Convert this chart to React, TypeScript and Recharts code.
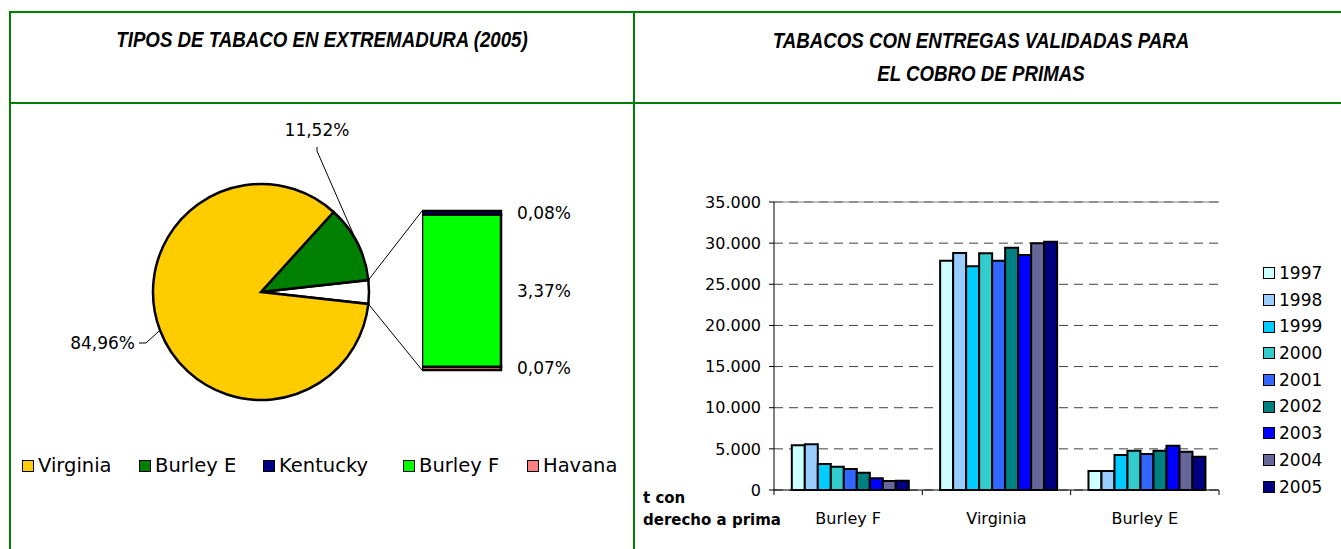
import React from 'react';
import {
  PieChart, Pie, Cell, BarChart, Bar, XAxis, YAxis, CartesianGrid, ReferenceLine, LabelList,
} from 'recharts';

// --- pie: tipos de tabaco (2005), % ---
const PIE_NAMES = ['Virginia', 'Burley E', 'Kentucky', 'Burley F', 'Havana'];
const PIE_VALUES = [84.96, 11.52, 0.08, 3.37, 0.07];
const PIE_COLORS = ['#FFCC00', '#008000', '#000080', '#00FF00', '#FF8080'];

// --- bars: t con derecho a prima ---
const CATEGORIES = ['Burley F', 'Virginia', 'Burley E'];
const YEARS = ['1997', '1998', '1999', '2000', '2001', '2002', '2003', '2004', '2005'];
const BURLEY_F = [5450, 5550, 3160, 2830, 2550, 2100, 1420, 1090, 1130];
const VIRGINIA = [27870, 28800, 27190, 28760, 27870, 29450, 28560, 29980, 30180];
const BURLEY_E = [2310, 2310, 4250, 4780, 4375, 4780, 5390, 4660, 4050];
const YEAR_COLORS = ['#CCFFFF', '#99CCFF', '#00CCFF', '#33CCCC', '#3366FF', '#008080', '#0000FF', '#666699', '#000080'];
const Y_TICKS = [0, 5000, 10000, 15000, 20000, 25000, 30000, 35000];

const FONT = '"DejaVu Sans", Verdana, sans-serif';
const TITLE_FONT = '"Liberation Sans", Arial, sans-serif';
const GREEN = '#008000';

// geometry of the left panel
const PIE_CX = 261;
const PIE_CY = 292;
const PIE_R = 108;
const STACK_LEFT = 422;
const STACK_TOP = 211;
const STACK_W = 79;
const STACK_H = 159;
const STACK_PAD = 14;
const PIE_LEGEND_X = [22, 139, 263, 403, 527];

const fmtPct = (v: number) => v.toFixed(2).replace('.', ',') + '%';
const fmtThousands = (v: number) => String(v).replace(/\B(?=(\d{3})+(?!\d))/g, '.');

// main pie: Virginia, Burley E and the rest grouped into the "other" slice
const otherValue = PIE_VALUES[2] + PIE_VALUES[3] + PIE_VALUES[4];
const pieData = [
  { name: 'Otros', value: otherValue, color: '#FFFFFF' },
  { name: PIE_NAMES[1], value: PIE_VALUES[1], color: PIE_COLORS[1] },
  { name: PIE_NAMES[0], value: PIE_VALUES[0], color: PIE_COLORS[0] },
];
const halfOther = (otherValue / 100) * 360 / 2;

const stackData = [{ name: 'otros', Havana: PIE_VALUES[4], 'Burley F': PIE_VALUES[3], Kentucky: PIE_VALUES[2] }];
const stackOrder = [4, 3, 2]; // bottom to top

const barData = CATEGORIES.map((cat, i) => {
  const src = [BURLEY_F, VIRGINIA, BURLEY_E][i];
  const row: Record<string, string | number> = { cat };
  YEARS.forEach((y, j) => { row[y] = src[j]; });
  return row;
});

const polar = (angle: number, r: number) => {
  const rad = (angle * Math.PI) / 180;
  return { x: PIE_CX + r * Math.cos(rad), y: PIE_CY - r * Math.sin(rad) };
};

// label placement relative to the pie centre (index in pieData)
const LABEL_POS: Record<number, { dx: number; dy: number; anchor: 'middle' | 'end' }> = {
  1: { dx: 56, dy: -162, anchor: 'middle' },
  2: { dx: -126, dy: 51, anchor: 'end' },
};

const renderPieLabel = (props: any) => {
  const { midAngle, index } = props;
  const pos = LABEL_POS[index];
  if (!pos) return null;
  const e = polar(midAngle, PIE_R);
  const tx = PIE_CX + pos.dx;
  const ty = PIE_CY + pos.dy;
  const pts = pos.anchor === 'end'
    ? `${e.x},${e.y} ${tx + 11},${ty} ${tx + 4},${ty}`
    : `${e.x},${e.y} ${tx},${ty + 21} ${tx},${ty + 17}`;
  return (
    <g>
      <polyline points={pts} fill="none" stroke="#000" strokeWidth={1} />
      <text x={tx} y={ty} textAnchor={pos.anchor} dominantBaseline="central" fontSize={17} fontFamily={FONT} fill="#000">
        {fmtPct(pieData[index].value)}
      </text>
    </g>
  );
};

const renderStackLabel = (props: any) => {
  const { x, y, width, height, value } = props;
  return (
    <text x={x + width + 16} y={y + height / 2} dominantBaseline="central" fontSize={17} fontFamily={FONT} fill="#000">
      {fmtPct(value)}
    </text>
  );
};

const PLOT_LEFT = 774;
const PLOT_RIGHT = 1219;
const BAND = (PLOT_RIGHT - PLOT_LEFT) / CATEGORIES.length;

const CategoryTick = (props: any) => {
  const { x, y, payload, index } = props;
  return (
    <g>
      <line x1={x - BAND / 2} y1={y} x2={x - BAND / 2} y2={y + 5} stroke="#000" />
      {index === CATEGORIES.length - 1 && <line x1={x + BAND / 2} y1={y} x2={x + BAND / 2} y2={y + 5} stroke="#000" />}
      <text x={x} y={y + 28} textAnchor="middle" dominantBaseline="central" fontSize={16} fontFamily={FONT} fill="#000">
        {payload.value}
      </text>
    </g>
  );
};

const Square = ({ color }: { color: string }) => (
  <span style={{ display: 'inline-block', width: 10, height: 10, background: color, border: '1.5px solid #000', marginRight: 4 }} />
);

const line = (style: React.CSSProperties) => <div style={{ position: 'absolute', background: GREEN, ...style }} />;

const titleStyle: React.CSSProperties = {
  position: 'absolute', fontFamily: TITLE_FONT, fontWeight: 'bold', fontStyle: 'italic', fontSize: 22,
  textAlign: 'center', transform: 'scaleX(0.85)', whiteSpace: 'nowrap',
};

export default function App() {
  const lo = polar(-halfOther, PIE_R);
  const hi = polar(halfOther, PIE_R);
  return (
    <div style={{ position: 'absolute', left: 0, top: 0, width: 1341, height: 549, background: '#fff', overflow: 'hidden', fontFamily: FONT }}>
      {line({ left: 9, top: 11, width: 1332, height: 2 })}
      {line({ left: 9, top: 102, width: 1332, height: 2 })}
      {line({ left: 9, top: 11, width: 2, height: 538 })}
      {line({ left: 633, top: 11, width: 2, height: 538 })}

      <div style={{ ...titleStyle, left: 10, top: 28, width: 624, lineHeight: '24px' }}>
        TIPOS DE TABACO EN EXTREMADURA (2005)
      </div>
      <div style={{ ...titleStyle, left: 634, top: 24, width: 694, lineHeight: '33px' }}>
        TABACOS CON ENTREGAS VALIDADAS PARA<br />EL COBRO DE PRIMAS
      </div>

      {/* left panel: bar of pie */}
      <div style={{ position: 'absolute', left: 0, top: 0 }}>
        <PieChart width={634} height={549} margin={{ top: 0, right: 0, bottom: 0, left: 0 }}>
          <Pie
            data={pieData}
            dataKey="value"
            cx={PIE_CX}
            cy={PIE_CY}
            outerRadius={PIE_R}
            startAngle={-halfOther}
            endAngle={360 - halfOther}
            stroke="#000"
            strokeWidth={2.5}
            label={renderPieLabel}
            labelLine={false}
            isAnimationActive={false}
          >
            {pieData.map((d, i) => <Cell key={i} fill={d.color} stroke="#000" strokeWidth={2.5} />)}
          </Pie>
        </PieChart>
      </div>
      <svg style={{ position: 'absolute', left: 0, top: 0 }} width={634} height={549}>
        <line x1={hi.x} y1={hi.y} x2={STACK_LEFT} y2={STACK_TOP} stroke="#000" strokeWidth={1} />
        <line x1={lo.x} y1={lo.y} x2={STACK_LEFT} y2={STACK_TOP + STACK_H} stroke="#000" strokeWidth={1} />
      </svg>
      <div style={{ position: 'absolute', left: STACK_LEFT, top: STACK_TOP - STACK_PAD }}>
        <BarChart
          width={STACK_W + 130}
          height={STACK_H + 2 * STACK_PAD}
          data={stackData}
          margin={{ top: STACK_PAD, right: 130, bottom: STACK_PAD, left: 0 }}
          barCategoryGap={0}
        >
          <XAxis dataKey="name" hide />
          <YAxis hide domain={[0, otherValue]} />
          {stackOrder.map((idx) => (
            <Bar key={idx} dataKey={PIE_NAMES[idx]} stackId="s" fill={PIE_COLORS[idx]} stroke="#000" strokeWidth={2.5} isAnimationActive={false}>
              <LabelList dataKey={PIE_NAMES[idx]} content={renderStackLabel} />
            </Bar>
          ))}
        </BarChart>
      </div>
      {PIE_NAMES.map((n, i) => (
        <div key={n} style={{ position: 'absolute', left: PIE_LEGEND_X[i], top: 455, display: 'flex', alignItems: 'center', fontSize: 19.5, lineHeight: '22px', whiteSpace: 'nowrap' }}>
          <Square color={PIE_COLORS[i]} />{n}
        </div>
      ))}

      {/* right panel: grouped bars */}
      <div style={{ position: 'absolute', left: 634, top: 103 }}>
        <BarChart width={707} height={446} data={barData} margin={{ top: 99, right: 122, bottom: 19, left: 70 }} barCategoryGap="12%" barGap={0}>
          <CartesianGrid vertical={false} stroke="#404040" strokeDasharray="9 6" />
          <XAxis dataKey="cat" height={40} tickLine={false} tickSize={0} tickMargin={0} axisLine={{ stroke: '#000' }} tick={<CategoryTick />} interval={0} />
          <YAxis
            width={70}
            domain={[0, 35000]}
            ticks={Y_TICKS}
            tickFormatter={fmtThousands}
            tickSize={5}
            tickMargin={8}
            axisLine={{ stroke: '#000' }}
            tickLine={{ stroke: '#000' }}
            tick={{ fontSize: 16, fill: '#000', fontFamily: FONT }}
          />
          <YAxis yAxisId="r" orientation="right" width={0} domain={[0, 35000]} tick={false} tickLine={false} axisLine={{ stroke: '#808080' }} />
          {YEARS.map((y, i) => (
            <Bar key={y} dataKey={y} fill={YEAR_COLORS[i]} stroke="#000" strokeWidth={2} isAnimationActive={false} />
          ))}
          <ReferenceLine y={35000} stroke="#808080" />
        </BarChart>
      </div>
      <div style={{ position: 'absolute', left: 1263, top: 260, fontSize: 17, lineHeight: '26.7px' }}>
        {YEARS.map((y, i) => (
          <div key={y} style={{ display: 'flex', alignItems: 'center', height: 26.7 }}>
            <Square color={YEAR_COLORS[i]} />{y}
          </div>
        ))}
      </div>
      <div style={{ position: 'absolute', left: 643, top: 487, fontSize: 15, fontWeight: 'bold', lineHeight: '22px' }}>
        t con<br />derecho a prima
      </div>
    </div>
  );
}
